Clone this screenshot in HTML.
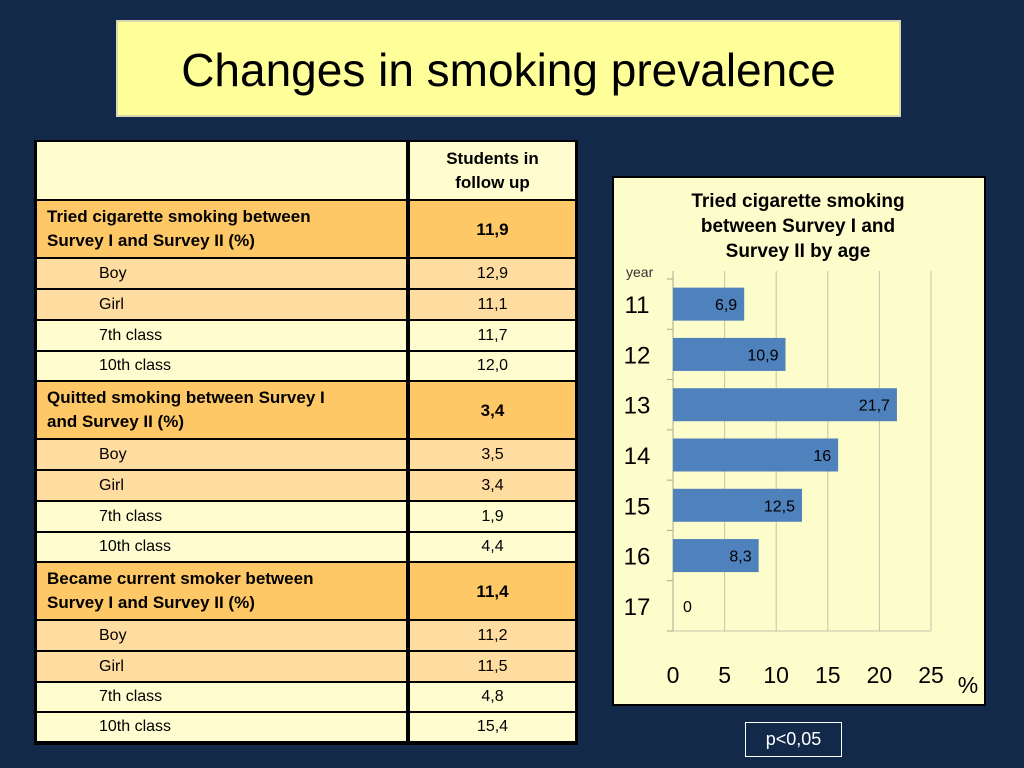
<!DOCTYPE html>
<html><head><meta charset="utf-8"><style>
body{margin:0;width:1024px;height:768px;background:#13294a;position:relative;overflow:hidden;font-family:"Liberation Sans",sans-serif}
.abs{position:absolute;box-sizing:border-box}
#title{left:116px;top:20px;width:785px;height:97px;background:#ffff99;border:2px solid #d8d8b0;font-size:46px;text-align:center;line-height:96px;color:#000}
#tbl{left:34px;top:140px;width:544px;height:605px;background:#000}
.cell{position:absolute;box-sizing:border-box;color:#000;font-size:16px;display:flex;align-items:center}
#p{left:745px;top:722px;width:97px;height:35px;border:1px solid #fff;color:#fff;font-size:18px;text-align:center;line-height:33px}
</style></head><body>
<div id="title" class="abs">Changes in smoking prevalence</div>
<div id="tbl" class="abs"></div>
<svg class="abs" style="left:0;top:0" width="1024" height="768" id="chart"></svg>
<div id="p" class="abs">p&lt;0,05</div>
<script>
const rowLabels=["","Tried cigarette smoking between<br>Survey I and Survey II (%)","Boy","Girl","7th class","10th class","Quitted smoking between Survey I<br>and Survey II (%)","Boy","Girl","7th class","10th class","Became current smoker between<br>Survey I and Survey II (%)","Boy","Girl","7th class","10th class"];
const rowValues=["Students in<br>follow up","11,9","12,9","11,1","11,7","12,0","3,4","3,5","3,4","1,9","4,4","11,4","11,2","11,5","4,8","15,4"];
const rowTops=[142,201,259,290,321,352,382,440,471,502,533,563,621,652,683,713];
const rowBots=[199,257,288,319,350,380,438,469,500,531,561,619,650,681,711,741];
const tbl=document.getElementById('tbl');
rowLabels.forEach((l,i)=>{
  const kind=i===0?'h':(i%5===1?'b':((i%5===2||i%5===3)?'o':'c'));
  const bg=kind==='h'?'#fffdd0':kind==='b'?'#ffc866':kind==='o'?'#ffdda0':'#fffdd0';
  const t=rowTops[i]-140,h=rowBots[i]-rowTops[i];
  const a=document.createElement('div');a.className='cell';
  
  
  a.style.cssText=`left:3px;top:${t}px;width:369px;height:${h}px;background:${bg};padding-left:${kind==='b'?10:62}px;font-weight:${kind==='b'?'bold':'normal'};font-size:${kind==='b'?17:16}px;line-height:24px`;
  a.innerHTML=l;tbl.appendChild(a);
  const b=document.createElement('div');b.className='cell';
  
  
  b.style.cssText=`left:376px;top:${t}px;width:165px;height:${h}px;background:${bg};justify-content:center;text-align:center;font-weight:${kind==='b'||kind==='h'?'bold':'normal'};font-size:${kind==='b'||kind==='h'?17:16}px;line-height:24px;${kind==='b'?'align-items:flex-start;padding-top:17px':''}`;
  b.innerHTML=rowValues[i];tbl.appendChild(b);
});
// chart
const ages=["11","12","13","14","15","16","17"];
const values=[6.9,10.9,21.7,16,12.5,8.3,0];
const valueLabels=["6,9","10,9","21,7","16","12,5","8,3","0"];
const xTicks=[0,5,10,15,20,25];
const NS='http://www.w3.org/2000/svg';
const svg=document.getElementById('chart');
function el(t,a,txt){const e=document.createElementNS(NS,t);for(const k in a)e.setAttribute(k,a[k]);if(txt!==undefined)e.textContent=txt;svg.appendChild(e);return e;}
const X0=673,X1=931,XMAX=25,PT=279,PB=631;
const xs=v=>X0+(X1-X0)*v/XMAX;
const band=(PB-PT)/ages.length;
let r=el('rect',{x:613,y:177,width:372,height:528,fill:'#fdfccb',stroke:'#000','stroke-width':2});


['Tried cigarette  smoking','between Survey I and','Survey II by age'].forEach((s,i)=>{
  const t=el('text',{x:798,y:207+i*25,'text-anchor':'middle','font-size':19,'font-weight':'bold',fill:'#000'},s);
  
  
});
xTicks.forEach(v=>{
  const g=el('line',{x1:xs(v),x2:xs(v),y1:271,y2:PB,stroke:'#c4c3a8','stroke-width':1});
  
  
  const t=el('text',{x:xs(v),y:683,'text-anchor':'middle','font-size':23,fill:'#000'},String(v));
  
  
});
el('line',{x1:X0,x2:X0,y1:271,y2:PB,stroke:'#a8a890'});
el('line',{x1:667,x2:X1,y1:PB,y2:PB,stroke:'#c4c3a8'});
for(let i=0;i<=ages.length;i++)el('line',{x1:667,x2:X0,y1:PT+i*band,y2:PT+i*band,stroke:'#a8a890'});
const yr=el('text',{x:626,y:277,'font-size':14,fill:'#333'},'year');


const pc=el('text',{x:968,y:693,'text-anchor':'middle','font-size':23,fill:'#000'},'%');


ages.forEach((a,i)=>{
  const yc=PT+band*(i+0.5);
  const t=el('text',{x:637,y:yc+9,'text-anchor':'middle','font-size':24,fill:'#000'},a);
  
  
  const b=el('rect',{x:X0,y:yc-16.5,width:xs(values[i])-X0,height:33,fill:'#4f81bd'});
  
  
  const vl=el('text',{x:values[i]>0?xs(values[i])-7:X0+10,y:yc+6,'text-anchor':values[i]>0?'end':'start','font-size':16,fill:'#000'},valueLabels[i]);
  
  
});
</script>
</body></html>
